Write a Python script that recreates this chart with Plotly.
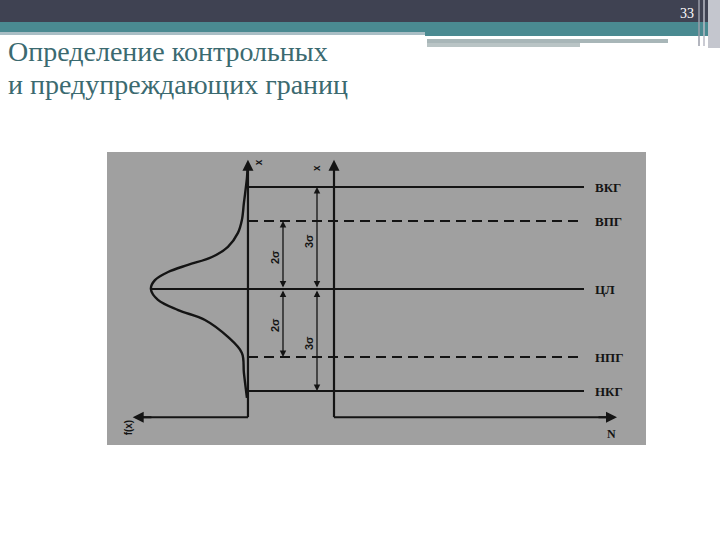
import plotly.graph_objects as go

# ---------------- data ----------------
# control-chart levels, in sigma units from the centre line
level_names = ["ВКГ", "ВПГ", "ЦЛ", "НПГ", "НКГ"]
level_sigma = [3, 2, 0, -2, -3]
level_dash = ["solid", "dash", "solid", "dash", "solid"]

# distribution curve: position x (sigma) and density f(x)
curve_x = [3.5, 3.26, 2.53, 2.03, 1.65, 1.24, 0.94, 0.71, 0.5, 0.26, 0.0,
           -0.32, -0.62, -0.91, -1.41, -1.88, -2.47, -3.2]
curve_f = [0.0005, 0.001, 0.004, 0.006, 0.0099, 0.0198, 0.0356, 0.0593, 0.079, 0.092, 0.096,
           0.089, 0.069, 0.0425, 0.0198, 0.006, 0.004, 0.001]

# sigma band arrows
band_labels = ["2σ", "3σ"]
band_sigma = [2, 3]
band_N = [-5.1, -1.7]

N_line_end = 25.0      # last sample drawn on the control chart
N_axis_end = 28.3
f_axis_end = 0.114
x_axis_top = 3.8
x_axis_bottom = -3.77

fig = go.Figure()

F_RANGE = [0.2452, -0.0040]   # reversed, f grows to the left
N_RANGE = [-8.6, 38.6]
Y_RANGE = [(289 - 540) / 34, 289 / 34]

INK = "#141414"

# curve
fig.add_trace(go.Scatter(x=curve_f, y=curve_x, mode="lines", xaxis="x", yaxis="y",
                         line=dict(color=INK, width=2.4, shape="spline", smoothing=1.0),
                         hoverinfo="skip"))

# centre line part on the distribution side
fig.add_trace(go.Scatter(x=[max(curve_f), 0], y=[0, 0], mode="lines", xaxis="x", yaxis="y",
                         line=dict(color=INK, width=2), hoverinfo="skip"))

# limit lines
for name, s, d in zip(level_names, level_sigma, level_dash):
    fig.add_trace(go.Scatter(x=[N_RANGE[0], N_line_end], y=[s, s], mode="lines",
                             xaxis="x2", yaxis="y",
                             line=dict(color=INK, width=2,
                                       dash="10px,6px" if d == "dash" else "solid"),
                             hoverinfo="skip"))
    fig.add_annotation(x=N_line_end + 0.9, y=s, xref="x2", yref="y", text="<b>%s</b>" % name,
                       showarrow=False, xanchor="left", yanchor="middle",
                       font=dict(family="Liberation Serif", size=13, color=INK))

# axes of the two panels (lines)
fig.add_trace(go.Scatter(x=[0, 0], y=[x_axis_bottom, x_axis_top - 0.2], mode="lines",
                         xaxis="x", yaxis="y", line=dict(color=INK, width=2.2), hoverinfo="skip"))
fig.add_trace(go.Scatter(x=[0, f_axis_end - 0.01], y=[x_axis_bottom, x_axis_bottom], mode="lines",
                         xaxis="x", yaxis="y", line=dict(color=INK, width=2), hoverinfo="skip"))
fig.add_trace(go.Scatter(x=[0, 0], y=[x_axis_bottom, x_axis_top - 0.2], mode="lines",
                         xaxis="x2", yaxis="y", line=dict(color=INK, width=2.2), hoverinfo="skip"))
fig.add_trace(go.Scatter(x=[0, N_axis_end - 0.8], y=[x_axis_bottom, x_axis_bottom], mode="lines",
                         xaxis="x2", yaxis="y", line=dict(color=INK, width=2), hoverinfo="skip"))

arrow = dict(showarrow=True, arrowhead=2, arrowsize=1.1, arrowwidth=2, arrowcolor=INK, text="")
fig.add_annotation(x=0, y=x_axis_top, ax=0, ay=x_axis_top - 0.5, xref="x", yref="y",
                   axref="x", ayref="y", **arrow)
fig.add_annotation(x=f_axis_end, y=x_axis_bottom, ax=f_axis_end - 0.02, ay=x_axis_bottom,
                   xref="x", yref="y", axref="x", ayref="y", **arrow)
fig.add_annotation(x=0, y=x_axis_top, ax=0, ay=x_axis_top - 0.5, xref="x2", yref="y",
                   axref="x2", ayref="y", **arrow)
fig.add_annotation(x=N_axis_end, y=x_axis_bottom, ax=N_axis_end - 2, ay=x_axis_bottom,
                   xref="x2", yref="y", axref="x2", ayref="y", **arrow)

# sigma band double arrows
for lab, s, nx in zip(band_labels, band_sigma, band_N):
    for sign in (1, -1):
        fig.add_annotation(x=nx, y=sign * s, ax=nx, ay=0, xref="x2", yref="y",
                           axref="x2", ayref="y", showarrow=True, arrowhead=2,
                           arrowside="end+start", arrowsize=1.0, arrowwidth=1.3,
                           arrowcolor=INK, text="")
        fig.add_annotation(x=nx - 0.8, y=sign * s * 0.5 - 0.03 * s, xref="x2", yref="y",
                           text="<b>%s</b>" % lab, showarrow=False, textangle=-90,
                           font=dict(family="Liberation Sans", size=11, color=INK))

# axis labels
fig.add_annotation(x=-7.6, y=3.73, xref="x2", yref="y", text="<b>x</b>", showarrow=False,
                   textangle=-90, font=dict(family="Liberation Sans", size=10, color=INK))
fig.add_annotation(x=-1.7, y=3.56, xref="x2", yref="y", text="<b>x</b>", showarrow=False,
                   textangle=-90, font=dict(family="Liberation Sans", size=10, color=INK))
fig.add_annotation(x=0.118, y=-4.08, xref="x", yref="y", text="<b>f(x)</b>", showarrow=False,
                   textangle=-90, font=dict(family="Liberation Sans", size=10, color=INK))
fig.add_annotation(x=27.7, y=-4.27, xref="x2", yref="y", text="<b>N</b>", showarrow=False,
                   font=dict(family="Liberation Serif", size=12, color=INK))

# ---------------- slide decoration ----------------
def px(x):
    return x / 720


def py(y):
    return 1 - y / 540


shapes = [
    dict(type="rect", xref="paper", yref="paper", x0=px(107), x1=px(646), y0=py(445), y1=py(152),
         fillcolor="#a0a0a0", line=dict(width=0), layer="below"),
    dict(type="rect", xref="paper", yref="paper", x0=0, x1=1, y0=py(22), y1=1,
         fillcolor="#3f4252", line=dict(width=0), layer="below"),
    dict(type="rect", xref="paper", yref="paper", x0=0, x1=1, y0=py(32), y1=py(22),
         fillcolor="#4a8a91", line=dict(width=0), layer="below"),
    dict(type="rect", xref="paper", yref="paper", x0=px(425), x1=1, y0=py(36), y1=py(32),
         fillcolor="#4a8a91", line=dict(width=0), layer="below"),
    dict(type="rect", xref="paper", yref="paper", x0=0, x1=px(425), y0=py(35), y1=py(32),
         fillcolor="#a9bec5", line=dict(width=0), layer="below"),
    dict(type="rect", xref="paper", yref="paper", x0=px(427), x1=px(668), y0=py(43), y1=py(39),
         fillcolor="#a8b6b8", line=dict(width=0), layer="below"),
    dict(type="rect", xref="paper", yref="paper", x0=px(427), x1=px(580), y0=py(47), y1=py(43),
         fillcolor="#b9c4c5", line=dict(width=0), layer="below"),
    dict(type="rect", xref="paper", yref="paper", x0=px(708), x1=1, y0=py(48), y1=1,
         fillcolor="#c4c6ce", line=dict(width=0), layer="below"),
    dict(type="line", xref="paper", yref="paper", x0=px(699), x1=px(699), y0=py(46), y1=1,
         line=dict(color="#9a9ca8", width=1.5), layer="below"),
    dict(type="line", xref="paper", yref="paper", x0=px(704), x1=px(704), y0=py(46), y1=1,
         line=dict(color="#b8bac4", width=1.5), layer="below"),
]
fig.update_layout(shapes=shapes)

fig.add_annotation(x=px(687), y=py(14), xref="paper", yref="paper", text="33", showarrow=False,
                   xanchor="center", yanchor="middle",
                   font=dict(family="Liberation Serif", size=14, color="#ffffff"))
fig.add_annotation(x=px(6), y=py(51), xref="paper", yref="paper",
                   text="Определение контрольных", showarrow=False, xanchor="left",
                   yanchor="middle",
                   font=dict(family="Liberation Serif", size=28, color="#3b6a70"))
fig.add_annotation(x=px(6), y=py(84), xref="paper", yref="paper",
                   text="и предупреждающих границ", showarrow=False, xanchor="left",
                   yanchor="middle",
                   font=dict(family="Liberation Serif", size=28, color="#3b6a70"))

ax_common = dict(showgrid=False, zeroline=False, showticklabels=False, ticks="",
                 showline=False, fixedrange=True)
fig.update_layout(
    width=720, height=540, margin=dict(l=0, r=0, t=0, b=0),
    paper_bgcolor="#ffffff", plot_bgcolor="rgba(0,0,0,0)", showlegend=False,
    xaxis=dict(domain=[0, 252 / 720], range=F_RANGE, **ax_common),
    xaxis2=dict(domain=[248 / 720, 1], range=N_RANGE, anchor="y", **ax_common),
    yaxis=dict(domain=[0, 1], range=Y_RANGE, **ax_common),
)

fig.write_html("out.html", config={"displayModeBar": False},
               post_script="document.body.style.margin='0';")
